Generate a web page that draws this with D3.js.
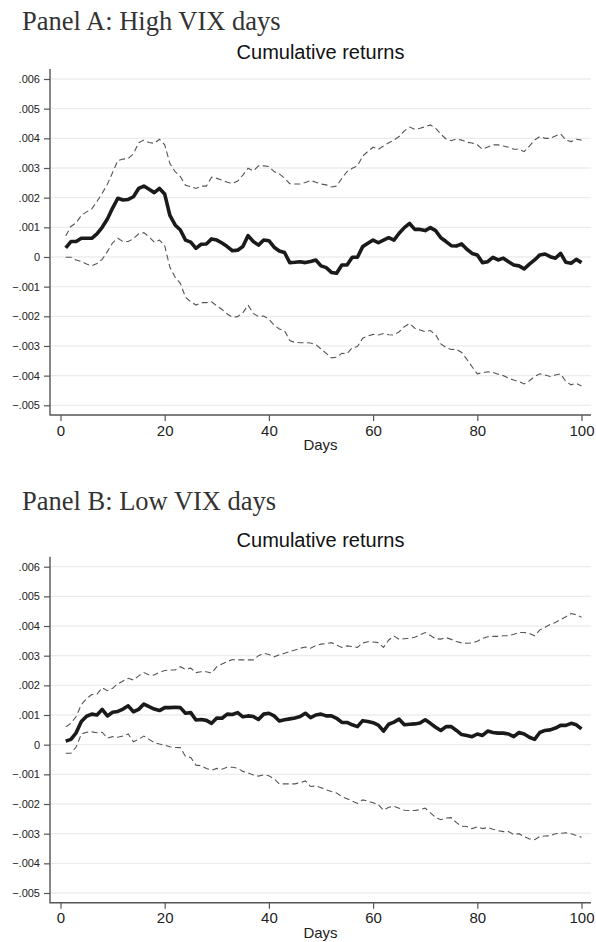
<!DOCTYPE html>
<html>
<head>
<meta charset="utf-8">
<script src="https://cdn.jsdelivr.net/npm/d3@7"></script>
<style>
  body { margin: 0; background: #fff; }
</style>
</head>
<body>
<svg id="chart" width="596" height="942"></svg>
<script>
// cumulative returns, in units of 0.001
var days = d3.range(1, 101);

var highMean = [.31,.52,.52,.63,.63,.63,.78,1.0,1.28,1.65,1.98,1.92,1.94,2.03,2.31,2.39,2.28,2.17,2.31,2.12,
  1.40,1.08,.91,.57,.50,.29,.43,.44,.61,.57,.47,.35,.21,.23,.35,.72,.52,.40,.57,.55,
  .33,.20,.15,-.19,-.18,-.16,-.19,-.15,-.10,-.30,-.36,-.52,-.55,-.27,-.27,-.01,-.01,.35,.46,.57,
  .48,.57,.65,.57,.80,.99,1.13,.93,.93,.89,.99,.89,.65,.52,.38,.37,.44,.26,.12,.07,
  -.19,-.16,-.01,-.10,-.04,-.16,-.27,-.30,-.40,-.24,-.10,.07,.10,.01,-.04,.12,-.18,-.21,-.08,-.19];
var highUpper = [.71,1.03,1.15,1.40,1.52,1.62,1.87,2.15,2.45,2.85,3.25,3.30,3.32,3.48,3.85,3.94,3.86,3.83,3.97,3.78,
  3.15,2.88,2.71,2.42,2.37,2.31,2.39,2.39,2.69,2.65,2.59,2.52,2.48,2.56,2.76,2.99,2.90,3.07,3.07,3.05,
  2.88,2.80,2.66,2.47,2.46,2.46,2.51,2.58,2.52,2.46,2.43,2.36,2.39,2.65,2.88,2.99,3.07,3.40,3.56,3.70,
  3.63,3.74,3.85,3.94,4.06,4.25,4.38,4.30,4.34,4.39,4.45,4.34,4.14,3.98,3.92,3.98,3.94,3.87,3.84,3.78,
  3.63,3.71,3.78,3.78,3.74,3.70,3.63,3.63,3.55,3.74,3.94,4.06,4.00,4.00,4.08,4.15,3.94,3.89,3.97,3.94];
var highLower = [-.01,-.01,-.10,-.15,-.24,-.30,-.22,-.08,.18,.48,.63,.52,.52,.62,.78,.82,.68,.50,.57,.38,
  -.35,-.68,-.89,-1.36,-1.51,-1.62,-1.54,-1.54,-1.51,-1.65,-1.77,-1.92,-2.03,-2.01,-1.88,-1.62,-1.90,-2.01,-1.99,-2.10,
  -2.30,-2.43,-2.48,-2.82,-2.88,-2.89,-2.89,-2.90,-2.95,-3.10,-3.25,-3.40,-3.38,-3.25,-3.26,-3.06,-3.02,-2.74,-2.66,-2.61,
  -2.63,-2.58,-2.62,-2.63,-2.52,-2.35,-2.24,-2.40,-2.46,-2.52,-2.48,-2.62,-2.93,-3.05,-3.12,-3.11,-3.22,-3.45,-3.70,-3.94,
  -3.90,-3.87,-3.89,-3.95,-4.00,-4.09,-4.15,-4.20,-4.28,-4.17,-4.03,-3.94,-3.98,-4.03,-3.98,-3.94,-4.20,-4.31,-4.26,-4.35];

var lowMean = [.12,.18,.40,.78,.96,1.03,1.00,1.19,.97,1.09,1.12,1.20,1.31,1.11,1.19,1.37,1.28,1.20,1.15,1.25,
  1.25,1.26,1.25,1.06,1.08,.83,.85,.82,.72,.90,.89,1.03,1.02,1.08,.94,.97,.95,.85,1.03,1.06,
  .97,.80,.84,.87,.90,.95,1.06,.91,1.00,1.03,.97,.97,.89,.75,.75,.67,.61,.81,.78,.74,
  .66,.46,.69,.76,.86,.67,.69,.70,.73,.84,.72,.59,.48,.61,.61,.48,.34,.31,.27,.36,
  .31,.46,.41,.39,.39,.36,.27,.41,.36,.25,.18,.41,.48,.50,.56,.65,.65,.72,.67,.53];
var lowUpper = [.60,.72,.95,1.35,1.55,1.69,1.70,1.92,1.82,1.90,2.05,2.15,2.24,2.18,2.32,2.43,2.35,2.35,2.44,2.50,
  2.52,2.52,2.63,2.54,2.58,2.43,2.46,2.46,2.41,2.63,2.72,2.80,2.87,2.86,2.86,2.86,2.86,3.00,3.08,3.04,
  2.96,3.03,3.08,3.14,3.19,3.25,3.29,3.25,3.34,3.39,3.41,3.44,3.36,3.28,3.33,3.31,3.28,3.43,3.47,3.46,
  3.44,3.28,3.53,3.66,3.55,3.57,3.59,3.62,3.70,3.78,3.68,3.57,3.56,3.61,3.55,3.48,3.43,3.42,3.43,3.49,
  3.58,3.64,3.65,3.65,3.67,3.67,3.72,3.78,3.78,3.75,3.67,3.87,3.96,4.05,4.12,4.22,4.31,4.42,4.38,4.30];
var lowLower = [-.29,-.29,-.08,.36,.42,.43,.40,.42,.22,.27,.25,.29,.36,.10,.18,.29,.18,.07,.02,-.02,
  -.07,-.09,-.10,-.40,-.43,-.69,-.71,-.80,-.86,-.80,-.83,-.76,-.76,-.79,-.90,-.95,-1.02,-1.06,-1.02,-1.05,
  -1.15,-1.32,-1.32,-1.32,-1.32,-1.28,-1.22,-1.41,-1.39,-1.45,-1.52,-1.58,-1.63,-1.75,-1.82,-1.90,-1.98,-1.86,-1.90,-1.96,
  -2.02,-2.21,-2.11,-2.08,-2.14,-2.21,-2.22,-2.22,-2.19,-2.14,-2.30,-2.45,-2.53,-2.47,-2.46,-2.63,-2.75,-2.76,-2.83,-2.77,
  -2.83,-2.79,-2.85,-2.90,-2.93,-2.93,-3.03,-3.00,-3.10,-3.18,-3.20,-3.09,-3.08,-3.07,-3.00,-2.99,-2.97,-3.00,-3.06,-3.12];

var xTicks = [0, 20, 40, 60, 80, 100];
var yTicks = [.006, .005, .004, .003, .002, .001, 0, -.001, -.002, -.003, -.004, -.005];

var svg = d3.select("#chart");

var x = d3.scaleLinear().domain([0, 100]).range([60.5, 581.5]);
var y = d3.scaleLinear().domain([-0.005, 0.006]).range([405.3, 79]);

var left = 50, right = 591, plotTop = 69, plotBottom = 415;

function fmt(d) {
  if (d === 0) return "0";
  var s = Math.abs(d).toFixed(3).replace(/^0/, "");
  return (d < 0 ? "\u2212" : "") + s;
}

function drawPanel(top, title, titleY, mean, upper, lower) {
  var g = svg.append("g").attr("transform", "translate(0," + top + ")");

  g.append("text")
    .attr("x", 22)
    .attr("y", titleY)
    .attr("font-family", "Liberation Serif, serif")
    .attr("font-size", 26.5)
    .attr("fill", "#333")
    .text(title);

  g.append("text")
    .attr("x", (left + right) / 2)
    .attr("y", 59)
    .attr("text-anchor", "middle")
    .attr("font-family", "Liberation Sans, Arial, sans-serif")
    .attr("font-size", 20)
    .attr("fill", "#111")
    .text("Cumulative returns");

  // gridlines
  g.append("g")
    .selectAll("line")
    .data(yTicks)
    .enter().append("line")
    .attr("x1", left)
    .attr("x2", right)
    .attr("y1", function (d) { return y(d); })
    .attr("y2", function (d) { return y(d); })
    .attr("stroke", "#ececec")
    .attr("stroke-width", 1.3);

  var line = d3.line()
    .x(function (d, i) { return x(days[i]); })
    .y(function (d) { return y(d * 0.001); });

  // confidence bands
  [upper, lower].forEach(function (s) {
    g.append("path")
      .datum(s)
      .attr("fill", "none")
      .attr("stroke", "#555")
      .attr("stroke-width", 1.1)
      .attr("stroke-dasharray", "6,3.5")
      .attr("d", line);
  });

  g.append("path")
    .datum(mean)
    .attr("fill", "none")
    .attr("stroke", "#1a1a1a")
    .attr("stroke-width", 3.6)
    .attr("stroke-linejoin", "round")
    .attr("d", line);

  // y axis
  var yAxis = g.append("g")
    .attr("transform", "translate(" + left + ",0)")
    .call(d3.axisLeft(y).tickValues(yTicks).tickSize(6).tickPadding(4).tickFormat(fmt));
  yAxis.select(".domain").remove();
  yAxis.selectAll("line").attr("stroke", "#555").attr("stroke-width", 1.2);
  yAxis.selectAll("text")
    .attr("font-family", "Liberation Sans, Arial, sans-serif")
    .attr("font-size", 11)
    .attr("fill", "#222");

  // x axis
  var xAxis = g.append("g")
    .attr("transform", "translate(0," + plotBottom + ")")
    .call(d3.axisBottom(x).tickValues(xTicks).tickSize(6).tickPadding(4));
  xAxis.select(".domain").remove();
  xAxis.selectAll("line").attr("stroke", "#555").attr("stroke-width", 1.2);
  xAxis.selectAll("text")
    .attr("font-family", "Liberation Sans, Arial, sans-serif")
    .attr("font-size", 15)
    .attr("fill", "#222");

  g.append("path")
    .attr("d", "M" + left + "," + plotTop + "V" + plotBottom + "H" + right)
    .attr("fill", "none")
    .attr("stroke", "#555")
    .attr("stroke-width", 1.4);

  g.append("text")
    .attr("x", (left + right) / 2)
    .attr("y", 450)
    .attr("text-anchor", "middle")
    .attr("font-family", "Liberation Sans, Arial, sans-serif")
    .attr("font-size", 15)
    .attr("fill", "#222")
    .text("Days");
}

drawPanel(0, "Panel A: High VIX days", 30, highMean, highUpper, highLower);
drawPanel(487.7, "Panel B: Low VIX days", 22.3, lowMean, lowUpper, lowLower);
</script>
</body>
</html>
